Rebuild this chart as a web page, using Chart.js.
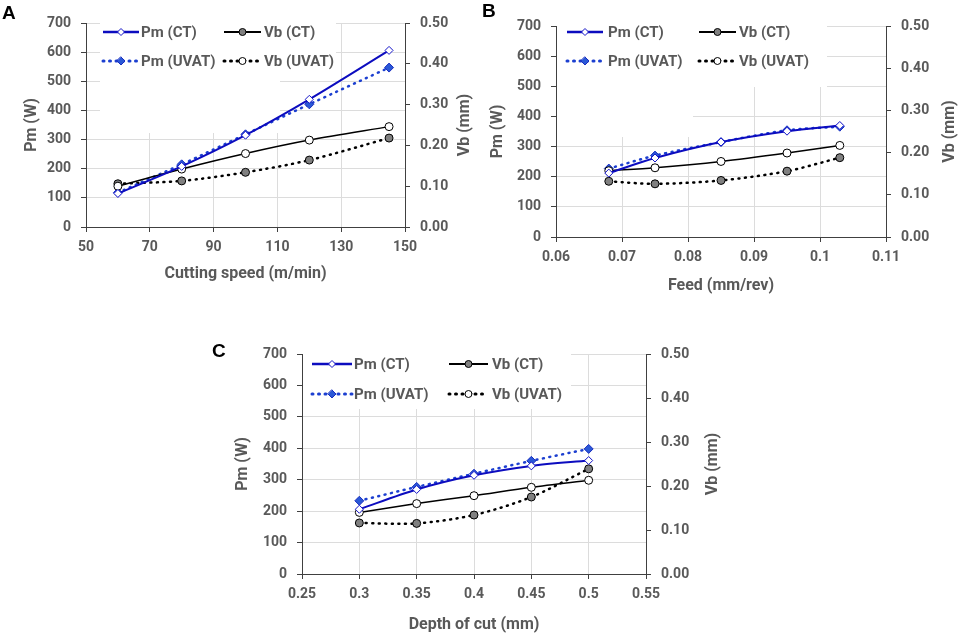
<!DOCTYPE html>
<html><head><meta charset="utf-8">
<script src="https://cdn.jsdelivr.net/npm/chart.js@4.4.0/dist/chart.umd.min.js"></script>
<style>
html,body{margin:0;padding:0;background:#fff;}
body{width:962px;height:642px;position:relative;overflow:hidden;}
.wrap{position:absolute;}
.letter{position:absolute;font:bold 19px "Liberation Sans",Arial,sans-serif;line-height:19px;color:#000;}
</style></head><body>
<div class="wrap" style="left:0;top:0;width:480px;height:300px"><canvas id="cA"></canvas></div>
<div class="wrap" style="left:480px;top:0;width:482px;height:300px"><canvas id="cB"></canvas></div>
<div class="wrap" style="left:200px;top:320px;width:560px;height:322px"><canvas id="cC"></canvas></div>
<div class="letter" style="left:2px;top:2.5px">A</div>
<div class="letter" style="left:482px;top:0.5px">B</div>
<div class="letter" style="left:212px;top:340.5px">C</div>
<script>
// ---------- DATA ----------
const seriesNames = ['Pm (CT)', 'Vb (CT)', 'Pm (UVAT)', 'Vb (UVAT)'];

const speedA   = [60, 80, 100, 120, 145];
const pmCT_A   = [115, 208, 315, 438, 606];
const pmUV_A   = [118, 215, 318, 421, 547];
const vbCT_A   = [0.100, 0.142, 0.180, 0.213, 0.246];
const vbUV_A   = [0.106, 0.113, 0.134, 0.164, 0.218];
const xTicksA  = [50, 70, 90, 110, 130, 150];
const xLabelsA = ['50', '70', '90', '110', '130', '150'];

const feedB    = [0.068, 0.075, 0.085, 0.095, 0.103];
const pmCT_B   = [212, 262, 315, 351, 370];
const pmUV_B   = [227, 270, 315, 354, 366];
const vbCT_B   = [0.157, 0.164, 0.179, 0.199, 0.217];
const vbUV_B   = [0.132, 0.126, 0.134, 0.156, 0.188];
const xTicksB  = [0.06, 0.07, 0.08, 0.09, 0.10, 0.11];
const xLabelsB = ['0.06', '0.07', '0.08', '0.09', '0.1', '0.11'];

const depthC   = [0.30, 0.35, 0.40, 0.45, 0.50];
const pmCT_C   = [206, 269, 314, 344, 361];
const pmUV_C   = [233, 277, 319, 360, 398];
const vbCT_C   = [0.140, 0.160, 0.178, 0.197, 0.213];
const vbUV_C   = [0.116, 0.115, 0.134, 0.175, 0.239];
const xTicksC  = [0.25, 0.30, 0.35, 0.40, 0.45, 0.50, 0.55];
const xLabelsC = ['0.25', '0.3', '0.35', '0.4', '0.45', '0.5', '0.55'];

const pmTicks  = [0, 100, 200, 300, 400, 500, 600, 700];
const pmLabels = ['0', '100', '200', '300', '400', '500', '600', '700'];
const vbTicks  = [0, 0.1, 0.2, 0.3, 0.4, 0.5];
const vbLabels = ['0.00', '0.10', '0.20', '0.30', '0.40', '0.50'];

// ---------- STYLE ----------
const TXT = '#595959';
const GRID = '#dcdcdc';
const AXIS = '#404040';
const FONT = 'Roboto';

const styles = [
  { color: '#0c0cbf', width: 2,   dash: [],       ps: 'rectRot', r: 4,   fill: '#ffffff', stroke: '#1414c8', axis: 'y',  lfill: '#ffffff', lr: 3.5 },
  { color: '#000000', width: 1.5, dash: [],       ps: 'circle',  r: 4,   fill: '#ffffff', stroke: '#000000', axis: 'y2', lfill: '#808080', lr: 3.5 },
  { color: '#1c3fd0', width: 2.5, dash: [1, 5.5], ps: 'rectRot', r: 4.5, fill: '#2a58d6', stroke: '#1a2ec0', axis: 'y',  lfill: '#2a58d6', lr: 4 },
  { color: '#000000', width: 2.5, dash: [1, 5.5], ps: 'circle',  r: 4,   fill: '#808080', stroke: '#000000', axis: 'y2', lfill: '#ffffff', lr: 3.5 }
];

function drawMarker(ctx, style, x, y, r, fill, stroke, lw) {
  ctx.beginPath();
  if (style === 'rectRot') {
    ctx.moveTo(x, y - r); ctx.lineTo(x + r, y); ctx.lineTo(x, y + r); ctx.lineTo(x - r, y); ctx.closePath();
  } else {
    ctx.arc(x, y, r, 0, Math.PI * 2);
  }
  ctx.setLineDash([]);
  ctx.fillStyle = fill; ctx.fill();
  ctx.lineWidth = lw; ctx.strokeStyle = stroke; ctx.stroke();
}

const decor = {
  id: 'decor',
  beforeDatasetsDraw(chart, args, o) {
    const a = chart.chartArea, ctx = chart.ctx;
    ctx.save();
    ctx.fillStyle = '#ffffff';
    o.boxes.forEach(b => ctx.fillRect(a.left + b[0], a.top + b[1], b[2], b[3]));
    ctx.restore();
  },
  afterDraw(chart, args, o) {
    const a = chart.chartArea, ctx = chart.ctx;
    ctx.save();
    // legend
    ctx.font = 'bold 15px ' + FONT;
    ctx.textBaseline = 'middle';
    ctx.textAlign = 'left';
    seriesNames.forEach((name, i) => {
      const s = styles[i];
      const row = Math.floor(i / 2), col = i % 2;
      const y = a.top + o.rows[row];
      const c = o.cols[col];
      ctx.beginPath();
      ctx.setLineDash(s.dash);
      ctx.lineCap = s.dash.length ? 'round' : 'butt';
      ctx.lineWidth = s.width + 0.5;
      ctx.strokeStyle = s.color;
      ctx.moveTo(a.left + c[0], y); ctx.lineTo(a.left + c[1], y);
      ctx.stroke();
      drawMarker(ctx, s.ps, a.left + (c[0] + c[1]) / 2, y, s.lr, s.lfill, s.stroke, 1);
      ctx.fillStyle = TXT;
      ctx.fillText(name, a.left + c[2], y + 1);
    });
    // axis titles
    ctx.font = 'bold 16px ' + FONT;
    ctx.fillStyle = TXT;
    ctx.textAlign = 'center';
    ctx.fillText(o.xTitle, (a.left + a.right) / 2, a.bottom + o.xDy);
    const cy = (a.top + a.bottom) / 2;
    [[o.yTitle, a.left - o.yDx], [o.y2Title, a.right + o.y2Dx]].forEach(([t, x]) => {
      ctx.save();
      ctx.translate(x, cy);
      ctx.rotate(-Math.PI / 2);
      ctx.fillText(t, 0, 0);
      ctx.restore();
    });
    ctx.restore();
  }
};

function fixed(values, labels) {
  return {
    afterBuildTicks: s => { s.ticks = values.map(v => ({ value: v })); },
    callback: (v, i) => labels[i]
  };
}

function makeChart(id, xs, series, xr, xt, xl, lay) {
  const datasets = series.map((vals, i) => {
    const s = styles[i];
    return {
      label: seriesNames[i],
      data: xs.map((x, k) => ({ x: x, y: vals[k] })),
      yAxisID: s.axis,
      borderColor: s.color,
      borderWidth: s.width,
      borderDash: s.dash,
      borderCapStyle: s.dash.length ? 'round' : 'butt',
      tension: 0.3,
      pointStyle: s.ps,
      pointRadius: s.r,
      pointHoverRadius: s.r,
      pointBackgroundColor: s.fill,
      pointBorderColor: s.stroke,
      pointBorderWidth: 1
    };
  });
  const xf = fixed(xt, xl), yf = fixed(pmTicks, pmLabels), y2f = fixed(vbTicks, vbLabels);
  const tickFont = { family: FONT, weight: 'bold', size: 14 };
  return new Chart(document.getElementById(id), {
    type: 'line',
    data: { datasets },
    plugins: [decor],
    options: {
      responsive: true, maintainAspectRatio: false, animation: false,
      layout: { padding: { top: lay.top, left: 0, right: 0, bottom: 0 } },
      plugins: {
        legend: { display: false }, tooltip: { enabled: false },
        decor: lay.decor
      },
      scales: {
        x: {
          type: 'linear', min: xr[0], max: xr[1],
          afterBuildTicks: xf.afterBuildTicks,
          afterFit: s => { s.height = lay.xh; },
          grid: { color: GRID, tickColor: AXIS, tickLength: 5 },
          border: { color: AXIS, width: 1 },
          ticks: { callback: xf.callback, autoSkip: false, maxRotation: 0, color: TXT, font: tickFont, padding: 7 }
        },
        y: {
          position: 'left', min: 0, max: 700,
          afterBuildTicks: yf.afterBuildTicks,
          afterFit: s => { s.width = lay.yw; },
          grid: { color: GRID, tickColor: AXIS, tickLength: 5 },
          border: { color: AXIS, width: 1 },
          ticks: { callback: yf.callback, autoSkip: false, color: TXT, font: tickFont, padding: 10 }
        },
        y2: {
          position: 'right', min: 0, max: 0.5,
          afterBuildTicks: y2f.afterBuildTicks,
          afterFit: s => { s.width = lay.y2w; },
          grid: { drawOnChartArea: false, tickColor: AXIS, tickLength: 5 },
          border: { color: AXIS, width: 1 },
          ticks: { callback: y2f.callback, autoSkip: false, color: TXT, font: tickFont, padding: 10 }
        }
      }
    }
  });
}

makeChart('cA', speedA, [pmCT_A, vbCT_A, pmUV_A, vbUV_A], [50, 150], xTicksA, xLabelsA, {
  top: 23, xh: 73, yw: 86, y2w: 75,
  decor: {
    boxes: [[14, 0, 180, 110], [14, 0, 236, 55]],
    rows: [9, 38], cols: [[17, 53, 55], [138, 175, 178]],
    xTitle: 'Cutting speed (m/min)', xDy: 47,
    yTitle: 'Pm (W)', yDx: 54, y2Title: 'Vb (mm)', y2Dx: 60
  }
});

makeChart('cB', feedB, [pmCT_B, vbCT_B, pmUV_B, vbUV_B], [0.06, 0.11], xTicksB, xLabelsB, {
  top: 26, xh: 63, yw: 76, y2w: 76,
  decor: {
    boxes: [[1, 0, 136, 111], [1, 0, 270, 61]],
    rows: [6, 35], cols: [[11, 47, 52], [143, 180, 183]],
    xTitle: 'Feed (mm/rev)', xDy: 49,
    yTitle: 'Pm (W)', yDx: 58, y2Title: 'Vb (mm)', y2Dx: 64
  }
});

makeChart('cC', depthC, [pmCT_C, vbCT_C, pmUV_C, vbUV_C], [0.25, 0.55], xTicksC, xLabelsC, {
  top: 34, xh: 68, yw: 102, y2w: 114,
  decor: {
    boxes: [[1, 0, 268, 55]],
    rows: [10, 40], cols: [[10, 50, 52], [147, 186, 190]],
    xTitle: 'Depth of cut (mm)', xDy: 51,
    yTitle: 'Pm (W)', yDx: 59, y2Title: 'Vb (mm)', y2Dx: 67
  }
});
</script>
</body></html>
